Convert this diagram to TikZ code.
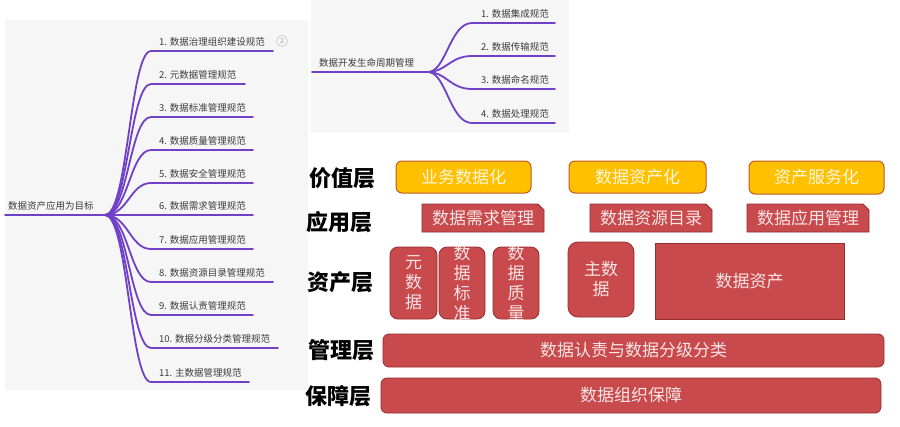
\documentclass[tikz,border=0pt]{standalone}
\usepackage{fontspec}
\setmainfont{Noto Sans CJK SC}
\usetikzlibrary{calc}
\definecolor{mmpurple}{RGB}{112,64,200}
\definecolor{panelbg}{RGB}{246,246,246}
\definecolor{mmtext}{RGB}{60,60,60}
\definecolor{redfill}{RGB}{200,74,77}
\definecolor{redline}{RGB}{150,45,50}
\definecolor{yelfill}{RGB}{255,192,0}
\definecolor{yelline}{RGB}{190,90,35}
\definecolor{boxtext}{RGB}{250,228,228}
\definecolor{yeltext}{RGB}{255,246,220}
\begin{document}
\begin{tikzpicture}[x=1pt,y=-1pt,
  mm/.style={draw=mmpurple,line width=1.8pt,line cap=round},
  mmtxt/.style={inner sep=0pt,text=mmtext,font=\fontsize{9.5}{10}\selectfont},
  lbl/.style={inner sep=0pt,anchor=west,font=\fontsize{22}{24}\selectfont\bfseries},
  ybox/.style={draw=yelline,fill=yelfill,line width=1pt,rounded corners=6pt,inner sep=0pt,text=yeltext,font=\fontsize{17}{20}\selectfont},
  rbox/.style={draw=redline,fill=redfill,line width=0.8pt,inner sep=0pt},
  rtxt/.style={inner sep=0pt,text=boxtext,align=center,font=\fontsize{17}{20}\selectfont},
]
\useasboundingbox[fill=white] (0,0) rectangle (900,426);
% panels
\fill[panelbg] (5,20) rectangle (308,390);
\fill[panelbg] (311,0) rectangle (569,133);

% left mind map
\coordinate (ls) at (5,215);
\coordinate (lj) at (105,215);
\draw[mm] (ls) -- (lj);
\node[mmtxt,anchor=south west] (lroot) at (8,211) {数据资产应用为目标};
\foreach \i/\y/\e/\t in {
  1/51/273/{1. 数据治理组织建设规范},
  2/84/245/{2. 元数据管理规范},
  3/117/253/{3. 数据标准管理规范},
  4/150/253/{4. 数据质量管理规范},
  5/183/253/{5. 数据安全管理规范},
  6/215/253/{6. 数据需求管理规范},
  7/249/253/{7. 数据应用管理规范},
  8/282/273/{8. 数据资源目录管理规范},
  9/315/253/{9. 数据认责管理规范},
  10/348/278/{10. 数据分级分类管理规范},
  11/382/249/{11. 主数据管理规范}}{
  \coordinate (ls\i) at (151,\y);
  \coordinate (le\i) at (\e,\y);
  \draw[mm] (lj) .. controls (128,215) and (130,\y) .. (ls\i) -- (le\i);
  \node[mmtxt,anchor=west] (lt\i) at (159,\y-9) {\t};
}
\node[circle,draw=gray!45,line width=0.6pt,inner sep=0pt,minimum size=11pt,text=gray!70,font=\fontsize{7}{7}\selectfont] (badge) at (282,41) {2};

% top mind map
\coordinate (ts) at (312,72);
\coordinate (tj) at (428,72);
\draw[mm] (ts) -- (tj);
\node[mmtxt,anchor=south west] (troot) at (319,68) {数据开发生命周期管理};
\foreach \i/\y/\t in {
  1/23/{1. 数据集成规范},
  2/56/{2. 数据传输规范},
  3/89/{3. 数据命名规范},
  4/123/{4. 数据处理规范}}{
  \coordinate (ts\i) at (472,\y);
  \coordinate (te\i) at (555,\y);
  \draw[mm] (tj) .. controls (446,72) and (450,\y) .. (ts\i) -- (te\i);
  \node[mmtxt,anchor=west] (tt\i) at (481,\y-9) {\t};
}

% layer labels
\node[lbl] (L1) at (309,178) {价值层};
\node[lbl] (L2) at (306,222) {应用层};
\node[lbl] (L3) at (307,282) {资产层};
\node[lbl] (L4) at (308,350) {管理层};
\node[lbl] (L5) at (305,396) {保障层};

% value layer
\node[ybox,minimum width=135pt,minimum height=32pt] (v1) at (463.5,177) {业务数据化};
\node[ybox,minimum width=137pt,minimum height=32pt] (v2) at (637.5,177) {数据资产化};
\node[ybox,minimum width=135pt,minimum height=33pt] (v3) at (816.5,177.5) {资产服务化};

% application layer (snipped top-right corner)
\foreach \n/\xa/\xb/\t in {a1/422/544/{数据需求管理},a2/590/712/{数据资源目录},a3/747/869/{数据应用管理}}{
  \path[rbox] (\xa,204) -- (\xb-6,204) -- (\xb,210) -- (\xb,232) -- (\xa,232) -- cycle;
  \node[rtxt] (\n) at ({(\xa+\xb)/2},218.5) {\t};
}

% asset layer
\node[rbox,rounded corners=8pt,minimum width=47pt,minimum height=72pt] (s1) at (413.5,283) {};
\node[rtxt] (s1t) at (s1) {元\\数\\据};
\node[rbox,rounded corners=8pt,minimum width=46pt,minimum height=72pt] (s2) at (462,283) {};
\node[rtxt] (s2t) at (s2) {数\\据\\标\\准};
\node[rbox,rounded corners=8pt,minimum width=46pt,minimum height=72pt] (s3) at (516,283) {};
\node[rtxt] (s3t) at (s3) {数\\据\\质\\量};
\node[rbox,rounded corners=10pt,minimum width=66pt,minimum height=75pt] (s4) at (601,279.5) {};
\node[rtxt] (s4t) at (s4) {主数\\据};
\node[rbox,minimum width=189pt,minimum height=76pt] (s5) at (749.5,281) {};
\node[rtxt] (s5t) at (s5) {数据资产};

% management and security layers
\node[rbox,rounded corners=6pt,minimum width=501pt,minimum height=33pt] (m1) at (633.5,350.5) {};
\node[rtxt] (m1t) at (m1) {数据认责与数据分级分类};
\node[rbox,rounded corners=6pt,minimum width=500pt,minimum height=35pt] (g1) at (631,395.5) {};
\node[rtxt] (g1t) at (g1) {数据组织保障};
\end{tikzpicture}
\end{document}
